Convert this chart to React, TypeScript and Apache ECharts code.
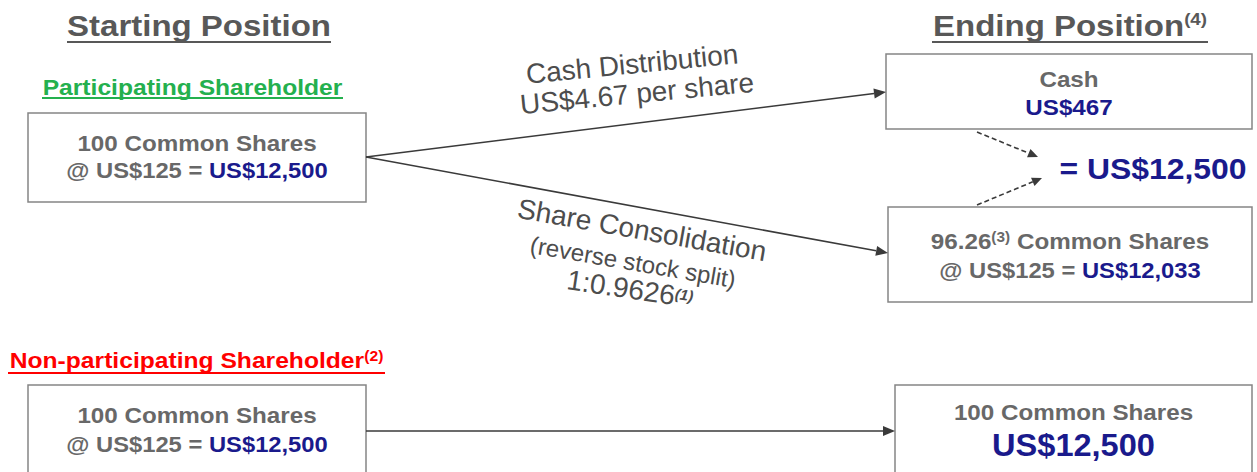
import React, { useEffect, useRef } from "react";
import * as echarts from "echarts";

// ---- content ----
const headings = ["Starting Position", "Ending Position"];
const headingNotes = ["", "(4)"];
const holderLabels = ["Participating Shareholder", "Non-participating Shareholder"];
const holderNotes = ["", "(2)"];
const startShares = ["100", "100"];
const sharePrice = "US$125";
const startValues = ["US$12,500", "US$12,500"];
const cashFlowLabels = ["Cash Distribution", "US$4.67 per share"];
const consolidationLabels = ["Share Consolidation", "(reverse stock split)", "1:0.9626"];
const consolidationNote = "(1)";
const cashLabel = "Cash";
const cashValue = "US$467";
const endShares = "96.26";
const endSharesNote = "(3)";
const endShareValue = "US$12,033";
const endTotal = "US$12,500";
const nonPartShares = "100";
const nonPartValue = "US$12,500";

const FF = "'Liberation Sans', Arial, Helvetica, sans-serif";
const DARK = "#585858";
const GRAY = "#686868";
const BLUE = "#1a1a8c";
const GREEN = "#24b04e";
const RED = "#ff0000";
const LINE = "#3a3a3a";
const BORDER = "#858585";
const ROT = "#4d4d4d";

function tk(size: number, weight: string, fill: string, extra: any = {}) {
  return { fontSize: size, fontWeight: weight, fontFamily: FF, fill, lineHeight: size, ...extra };
}

function txt(x: number, y: number, content: string, o: any) {
  return {
    type: "text",
    x,
    y,
    z: 10,
    rotation: o.rotation || 0,
    scaleX: o.scaleX || 1,
    style: {
      text: content,
      fontSize: o.size,
      fontWeight: o.weight || "bold",
      fontStyle: o.italic ? "italic" : "normal",
      fontFamily: FF,
      fill: o.fill,
      align: "center",
      verticalAlign: "middle",
      rich: o.rich,
    },
  };
}

function arrow(x1: number, y1: number, x2: number, y2: number, dashed = false) {
  const dx = x2 - x1;
  const dy = y2 - y1;
  const len = Math.hypot(dx, dy);
  const ux = dx / len;
  const uy = dy / len;
  const L = dashed ? 10 : 12;
  const Wd = dashed ? 4.5 : 5;
  const bx = x2 - ux * L;
  const by = y2 - uy * L;
  return [
    {
      type: "line",
      z: 5,
      shape: { x1, y1, x2: bx, y2: by },
      style: { stroke: LINE, lineWidth: 1.6, lineDash: dashed ? [5, 3] : null },
    },
    {
      type: "polygon",
      z: 5,
      shape: { points: [[x2, y2], [bx - uy * Wd, by + ux * Wd], [bx + uy * Wd, by - ux * Wd]] },
      style: { fill: LINE },
    },
  ];
}

function box(x: number, y: number, w: number, h: number) {
  return {
    type: "rect",
    z: 2,
    shape: { x, y, width: w, height: h },
    style: { fill: "#ffffff", stroke: BORDER, lineWidth: 1.5 },
  };
}

function underline(x1: number, x2: number, y: number, color: string) {
  return { type: "line", z: 10, shape: { x1, y1: y, x2, y2: y }, style: { stroke: color, lineWidth: 2 } };
}

function buildElements() {
  const els: any[] = [];
  // Headings
  els.push(txt(199, 26, headings[0], { size: 30, fill: DARK, scaleX: 1.1 }));
  els.push(underline(67, 331, 42, DARK));
  els.push(
    txt(1070, 26, `{t|${headings[1]}}{s|${headingNotes[1]}}`, {
      size: 30,
      fill: DARK,
      scaleX: 1.1,
      rich: { t: tk(30, "bold", DARK), s: tk(17, "bold", DARK, { verticalAlign: "top" }) },
    })
  );
  els.push(underline(932, 1208, 42, DARK));

  // Shareholder labels
  els.push(txt(192.5, 87.5, holderLabels[0], { size: 22, fill: GREEN, scaleX: 1.12 }));
  els.push(underline(42, 343, 98, GREEN));
  els.push(
    txt(196.5, 360.5, `{t|${holderLabels[1]}}{s|${holderNotes[1]}}`, {
      size: 22,
      fill: RED,
      scaleX: 1.12,
      rich: { t: tk(22, "bold", RED), s: tk(14, "bold", RED, { verticalAlign: "top" }) },
    })
  );
  els.push(underline(8, 385, 373, RED));

  const gb = { g: tk(22, "bold", GRAY), b: tk(22, "bold", BLUE), s: tk(14, "bold", GRAY, { verticalAlign: "top" }) };

  // Boxes
  els.push(box(28, 113, 338, 89));
  els.push(txt(197, 143, `${startShares[0]} Common Shares`, { size: 22, fill: GRAY, scaleX: 1.1 }));
  els.push(txt(197, 170, `{g|@ ${sharePrice} = }{b|${startValues[0]}}`, { size: 22, fill: GRAY, scaleX: 1.08, rich: gb }));

  els.push(box(28, 385, 338, 95));
  els.push(txt(197, 415.5, `${startShares[1]} Common Shares`, { size: 22, fill: GRAY, scaleX: 1.1 }));
  els.push(txt(197, 444.5, `{g|@ ${sharePrice} = }{b|${startValues[1]}}`, { size: 22, fill: GRAY, scaleX: 1.08, rich: gb }));

  els.push(box(886, 54, 366, 75));
  els.push(txt(1069, 79, cashLabel, { size: 22, fill: GRAY, scaleX: 1.1 }));
  els.push(txt(1069, 107.5, cashValue, { size: 22, fill: BLUE, scaleX: 1.1 }));

  els.push(box(888, 207, 364, 95));
  els.push(
    txt(1070, 241, `{g|${endShares}}{s|${endSharesNote}}{g| Common Shares}`, { size: 22, fill: GRAY, scaleX: 1.1, rich: gb })
  );
  els.push(txt(1070, 270.5, `{g|@ ${sharePrice} = }{b|${endShareValue}}`, { size: 22, fill: GRAY, scaleX: 1.08, rich: gb }));

  els.push(box(895, 385, 357, 95));
  els.push(txt(1073.5, 412.5, `${nonPartShares} Common Shares`, { size: 22, fill: GRAY, scaleX: 1.1 }));
  els.push(txt(1073.5, 445, nonPartValue, { size: 31, fill: BLUE, scaleX: 1.05 }));

  els.push(txt(1153, 169, `= ${endTotal}`, { size: 29, fill: BLUE, scaleX: 1.1 }));

  // Arrows
  els.push(...arrow(366, 157, 886, 92));
  els.push(...arrow(366, 157, 888, 253));
  els.push(...arrow(366, 431, 895, 431));
  els.push(...arrow(977, 132, 1038, 157, true));
  els.push(...arrow(977, 205, 1042, 178, true));

  // Rotated labels
  els.push(txt(632, 64, cashFlowLabels[0], { size: 28, weight: "normal", fill: ROT, rotation: 0.096 }));
  els.push(txt(637, 93.5, cashFlowLabels[1], { size: 28, weight: "normal", fill: ROT, rotation: 0.096 }));
  els.push(txt(642, 230, consolidationLabels[0], { size: 28, weight: "normal", fill: ROT, rotation: -0.175 }));
  els.push(txt(633, 262, consolidationLabels[1], { size: 24, weight: "normal", fill: ROT, rotation: -0.17 }));
  els.push(
    txt(630, 289, `{t|${consolidationLabels[2]}}{s|${consolidationNote}}`, {
      size: 28,
      weight: "normal",
      fill: ROT,
      rotation: -0.15,
      rich: {
        t: tk(28, "normal", ROT),
        s: tk(15, "bold", ROT, { verticalAlign: "top", fontStyle: "italic", padding: [4, 0, 0, 0] }),
      },
    })
  );
  return els;
}

export default function App() {
  const ref = useRef<HTMLDivElement>(null);
  useEffect(() => {
    if (!ref.current) return;
    const chart = echarts.init(ref.current, null, { renderer: "svg" });
    chart.setOption({
      animation: false,
      backgroundColor: "#ffffff",
      graphic: { elements: buildElements() },
    });
    return () => chart.dispose();
  }, []);
  return (
    <div
      ref={ref}
      style={{ position: "fixed", left: 0, top: 0, width: 1257, height: 472, background: "#fff" }}
    />
  );
}
